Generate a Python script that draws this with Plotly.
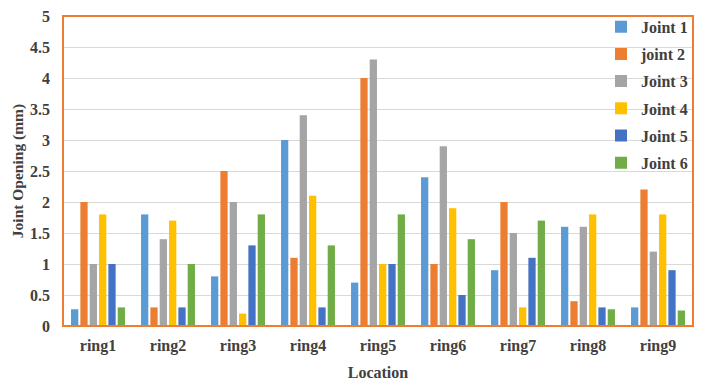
import plotly.graph_objects as go

categories = ["ring1", "ring2", "ring3", "ring4", "ring5", "ring6", "ring7", "ring8", "ring9"]
series_names = ["Joint 1", "joint 2", "Joint 3", "Joint 4", "Joint 5", "Joint 6"]
joint1 = [0.27, 1.8, 0.8, 3.0, 0.7, 2.4, 0.9, 1.6, 0.3]
joint2 = [2.0, 0.3, 2.5, 1.1, 4.0, 1.0, 2.0, 0.4, 2.2]
joint3 = [1.0, 1.4, 2.0, 3.4, 4.3, 2.9, 1.5, 1.6, 1.2]
joint4 = [1.8, 1.7, 0.2, 2.1, 1.0, 1.9, 0.3, 1.8, 1.8]
joint5 = [1.0, 0.3, 1.3, 0.3, 1.0, 0.5, 1.1, 0.3, 0.9]
joint6 = [0.3, 1.0, 1.8, 1.3, 1.8, 1.4, 1.7, 0.27, 0.25]
colors = ["#5B9BD5", "#ED7D31", "#A5A5A5", "#FFC000", "#4472C4", "#70AD47"]
y_ticks = [0, 0.5, 1, 1.5, 2, 2.5, 3, 3.5, 4, 4.5, 5]
y_tick_labels = ["0", "0.5", "1", "1.5", "2", "2.5", "3", "3.5", "4", "4.5", "5"]

fig = go.Figure()
for i, (name, vals, col) in enumerate(zip(series_names, [joint1, joint2, joint3, joint4, joint5, joint6], colors)):
    fig.add_trace(go.Bar(x=categories, y=vals, name=name, legendgroup=f"g{i}",
                         marker=dict(color=col, line=dict(width=0))))

font_family = "Liberation Serif"
txt = "#404040"
fig.update_layout(
    width=724, height=385,
    margin=dict(l=63, r=31, t=16, b=59, autoexpand=False),
    paper_bgcolor="white", plot_bgcolor="white",
    barmode="group", bargap=0.2, bargroupgap=0.22,
    font=dict(family=font_family, color=txt, size=15),
    legend=dict(x=1.0, y=1.02, xanchor="right", yanchor="top",
                bgcolor="rgba(0,0,0,0)", font=dict(size=16, family=font_family, color=txt, weight="bold"),
                tracegroupgap=3.4, itemwidth=30),
    showlegend=True,
    shapes=[dict(type="rect", xref="paper", yref="paper", x0=0, y0=0, x1=1, y1=1,
                 line=dict(color="#ED7D31", width=2), layer="above")],
)
fig.update_yaxes(
    range=[0, 5], tickvals=y_ticks, ticktext=y_tick_labels, automargin=False,
    showgrid=True, gridcolor="#D9D9D9", gridwidth=1,
    showline=False, zeroline=False, ticks="", ticklabelstandoff=12,
    tickfont=dict(size=16, family=font_family, color=txt, weight="bold"),
    title=dict(text="Joint Opening (mm)", font=dict(size=15.5, family=font_family, color=txt, weight="bold"), standoff=2),
)
fig.update_xaxes(
    showline=False, automargin=False,
    ticks="", ticklabelstandoff=8,
    tickfont=dict(size=16, family=font_family, color=txt, weight="bold"),
    title=dict(text="Location", font=dict(size=16, family=font_family, color=txt, weight="bold"), standoff=12),
)

fig.write_html("out.html", config={"displayModeBar": False},
               post_script="document.body.style.margin='0';")
